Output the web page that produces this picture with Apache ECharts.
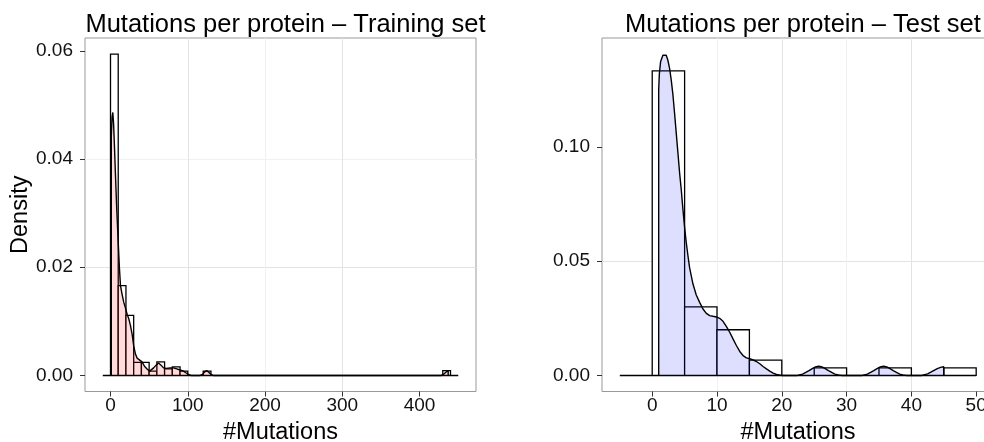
<!DOCTYPE html>
<html>
<head>
<meta charset="utf-8">
<script src="https://cdn.jsdelivr.net/npm/echarts@6/dist/echarts.min.js"></script>
<style>
html,body{margin:0;padding:0;background:#fff;}
#chart{width:984px;height:442px;}
</style>
</head>
<body>
<div id="chart"></div>
<script>
// ---------- data ----------
const titles = ['Mutations per protein \u2013 Training set', 'Mutations per protein \u2013 Test set'];
const xTitle = '#Mutations';
const yTitle = 'Density';

// Training set histogram (bin width 10)
const trainBinWidth = 10;
const trainBinStart = [0, 10, 20, 30, 40, 50, 60, 70, 80, 90, 120, 430];
const trainBinDensity = [0.0594, 0.0166, 0.0111, 0.0024, 0.0024, 0.0008, 0.0025, 0.0012, 0.0016, 0.0008, 0.0008, 0.0009];
const trainBinRange = [-10, 450];

// Training set density curve
const trainDensX = [1, 1, 2, 3, 4, 5, 6.4, 8, 9.9, 11.5, 12.9, 15, 17.2, 19.3, 21.5, 23.6, 25.7, 27.9, 30, 32.2, 34.4, 36.5, 40.8, 44, 47.3, 50.6, 53, 55.8, 59, 62.2, 65.4, 68.6, 72, 77.2, 81.5, 85.8, 90, 94.4, 97.5, 100.9, 104, 116, 119, 121.5, 124.4, 127, 130, 133, 428, 431, 434, 437, 437];
const trainDensY = [0, 0.044, 0.0478, 0.0486, 0.0465, 0.0428, 0.0372, 0.031, 0.0249, 0.0200, 0.0166, 0.0150, 0.0135, 0.0125, 0.0113, 0.0105, 0.0093, 0.0077, 0.0055, 0.0040, 0.0032, 0.0030, 0.0025, 0.0017, 0.0012, 0.0008, 0.0010, 0.0014, 0.0019, 0.0023, 0.0019, 0.0014, 0.0013, 0.0014, 0.0014, 0.0012, 0.0010, 0.0008, 0.0005, 0.0002, 0, 0, 0.0002, 0.0006, 0.0009, 0.0006, 0.0002, 0, 0, 0.0002, 0.0006, 0.0009, 0];

// Test set histogram (bin width 5)
const testBinWidth = 5;
const testBinStart = [0, 5, 10, 15, 25, 35, 45];
const testBinDensity = [0.1333, 0.0300, 0.0200, 0.0067, 0.0033, 0.0033, 0.0033];
const testBinRange = [-5, 50];

// Test set density curve
const testDensX = [1, 1, 1.1, 1.29, 1.65, 1.91, 2.16, 2.42, 2.68, 2.94, 3.2, 3.45, 3.71, 3.97, 4.23, 4.48, 4.74, 5.0, 5.26, 5.52, 5.77, 6.29, 6.8, 7.32, 7.84, 8.35, 8.87, 9.38, 9.9, 10.41, 10.93, 11.44, 11.96, 12.47, 12.99, 13.51, 14.02, 14.54, 15.05, 15.57, 16.08, 16.6, 17.11, 17.63, 18.14, 18.66, 19.18, 19.95, 22.4, 22.7, 23.2, 23.7, 24.2, 24.7, 25.2, 25.7, 26.2, 26.7, 27.2, 27.7, 28.2, 28.7, 29.2, 32.4, 32.7, 33.2, 33.7, 34.2, 34.7, 35.2, 35.7, 36.2, 36.7, 37.2, 37.7, 38.2, 38.7, 39.2, 41.6, 41.9, 42.5, 43, 43.5, 44, 44.5, 45, 45];
const testDensY = [0, 0.125, 0.132, 0.1373, 0.1402, 0.1407, 0.1402, 0.138, 0.1344, 0.1293, 0.1228, 0.1148, 0.1061, 0.0974, 0.0886, 0.0814, 0.0727, 0.0647, 0.0581, 0.0523, 0.0472, 0.04, 0.0352, 0.032, 0.0291, 0.0272, 0.0262, 0.0259, 0.0256, 0.025, 0.0237, 0.0215, 0.0189, 0.016, 0.0131, 0.0105, 0.0087, 0.0077, 0.0073, 0.0068, 0.0061, 0.0051, 0.0039, 0.0029, 0.0019, 0.001, 0.0004, 0, 0, 0.0002, 0.0006, 0.0013, 0.0021, 0.003, 0.0037, 0.0041, 0.0037, 0.003, 0.0021, 0.0013, 0.0006, 0.0002, 0, 0, 0.0002, 0.0006, 0.0013, 0.0021, 0.003, 0.0037, 0.0041, 0.0037, 0.003, 0.0021, 0.0013, 0.0006, 0.0002, 0, 0, 0.0002, 0.0007, 0.0014, 0.0022, 0.003, 0.0035, 0.0038, 0];

// Tick labels
const trainXTicks = [0, 100, 200, 300, 400];
const trainYTicks = [0, 0.02, 0.04, 0.06];
const testXTicks = [0, 10, 20, 30, 40, 50];
const testYTicks = [0, 0.05, 0.10];

// ---------- chart ----------
const FONT = 'Liberation Sans, Arial, Helvetica, sans-serif';
const MAJOR = '#e3e3e3', MINOR = '#f1f1f1';

function expand(a, b) { const s = b - a; return [a - 0.05 * s, b + 0.05 * s]; }

function gridColors(min, interval) {
  const first = Math.ceil(min / interval - 1e-9) * interval;
  const isMajor = Math.abs(Math.round(first / interval)) % 2 === 0;
  return isMajor ? [MAJOR, MINOR] : [MINOR, MAJOR];
}

function makeX(idx, ext, step, ticks) {
  return {
    type: 'value', gridIndex: idx, min: ext[0], max: ext[1],
    minInterval: step, maxInterval: step,
    name: xTitle, nameLocation: 'middle', nameGap: 27,
    nameTextStyle: { fontSize: 23.5, color: '#000', fontFamily: FONT },
    axisLine: { show: false, onZero: false },
    axisTick: { show: true, length: 5, customValues: ticks, lineStyle: { color: '#333', width: 1 } },
    axisLabel: { customValues: ticks, margin: 5, fontSize: 19, color: '#111', fontFamily: FONT,
      formatter: v => String(Math.round(v)) },
    splitLine: { show: true, showMinLine: false, showMaxLine: false,
      lineStyle: { color: gridColors(ext[0], step), width: 1 } },
    minorSplitLine: { show: false }
  };
}

function makeY(idx, ext, step, ticks, withName) {
  const o = {
    type: 'value', gridIndex: idx, min: ext[0], max: ext[1],
    minInterval: step, maxInterval: step,
    axisLine: { show: false, onZero: false },
    axisTick: { show: true, length: 5, customValues: ticks, lineStyle: { color: '#333', width: 1 } },
    axisLabel: { customValues: ticks, margin: 12, fontSize: 19, color: '#111', fontFamily: FONT,
      formatter: v => v.toFixed(2) },
    splitLine: { show: true, showMinLine: false, showMaxLine: false,
      lineStyle: { color: gridColors(ext[0], step), width: 1 } }
  };
  if (withName) {
    o.name = yTitle; o.nameLocation = 'middle'; o.nameRotate = 90; o.nameGap = 50;
    o.nameTextStyle = { fontSize: 23.5, color: '#000', fontFamily: FONT };
  }
  return o;
}

function bars(starts, dens, w) { return starts.map((s, i) => [s, s + w, dens[i]]); }
function pts(xs, ys) { return xs.map((x, i) => [x, ys[i]]); }

const trainXExt = expand(trainBinRange[0], trainBinRange[1]);
const testXExt = expand(testBinRange[0], testBinRange[1]);
const trainYExt = expand(0, Math.max(...trainBinDensity, ...trainDensY));
const testYExt = expand(0, Math.max(...testBinDensity, ...testDensY));

function rectItem(params, api) {
  const p0 = api.coord([api.value(0), api.value(2)]);
  const p1 = api.coord([api.value(1), 0]);
  return { type: 'rect', shape: { x: p0[0], y: p0[1], width: p1[0] - p0[0], height: p1[1] - p0[1] },
    style: { fill: '#ffffff', stroke: '#000000', lineWidth: 1.3 } };
}

function panelSeries(idx, binData, binRange, densData, fill) {
  return [
    { type: 'line', xAxisIndex: idx, yAxisIndex: idx, data: [[binRange[0], 0], [binRange[1], 0]],
      showSymbol: false, lineStyle: { color: '#000', width: 1.4 }, z: 1, silent: true },
    { type: 'custom', xAxisIndex: idx, yAxisIndex: idx, data: binData, renderItem: rectItem,
      encode: { x: [0, 1], y: 2 }, z: 2, silent: true },
    { type: 'line', xAxisIndex: idx, yAxisIndex: idx, data: densData, showSymbol: false, smooth: false,
      lineStyle: { color: '#000', width: 1.4 }, areaStyle: { color: fill, opacity: 1 }, z: 3, silent: true }
  ];
}

const gridCommon = { top: 38, height: 353.5, show: true, borderColor: '#999', borderWidth: 1,
  backgroundColor: 'transparent', containLabel: false, outerBoundsMode: 'none' };

const chart = echarts.init(document.getElementById('chart'), null, { renderer: 'canvas' });
chart.setOption({
  animation: false,
  backgroundColor: '#fff',
  title: [
    { text: titles[0], left: 280.5, top: 7, textAlign: 'center',
      textStyle: { fontSize: 25.5, fontWeight: 'normal', color: '#000', fontFamily: FONT } },
    { text: titles[1], left: 798, top: 7, textAlign: 'center',
      textStyle: { fontSize: 25.5, fontWeight: 'normal', color: '#000', fontFamily: FONT } }
  ],
  grid: [
    Object.assign({ left: 85, width: 391 }, gridCommon),
    Object.assign({ left: 602, width: 392 }, gridCommon)
  ],
  xAxis: [ makeX(0, trainXExt, 50, trainXTicks), makeX(1, testXExt, 5, testXTicks) ],
  yAxis: [ makeY(0, trainYExt, 0.01, trainYTicks, true), makeY(1, testYExt, 0.025, testYTicks, false) ],
  series: [
    ...panelSeries(0, bars(trainBinStart, trainBinDensity, trainBinWidth), trainBinRange, pts(trainDensX, trainDensY), 'rgba(255,0,0,0.14)'),
    ...panelSeries(1, bars(testBinStart, testBinDensity, testBinWidth), testBinRange, pts(testDensX, testDensY), 'rgba(0,0,255,0.13)')
  ]
});
</script>
</body>
</html>
